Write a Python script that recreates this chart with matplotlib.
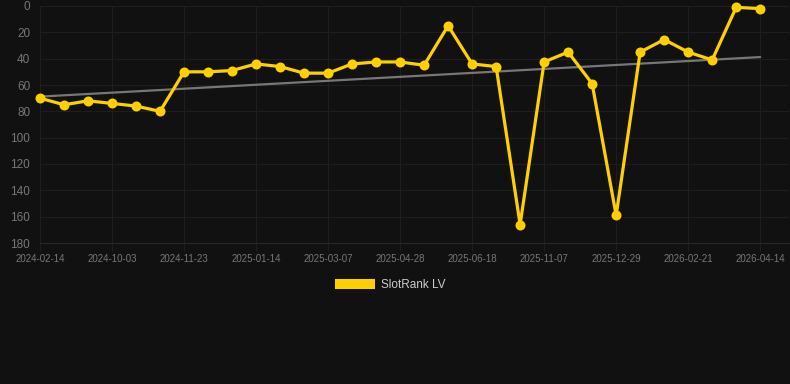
import matplotlib
matplotlib.use("Agg")
import matplotlib.pyplot as plt
import matplotlib.patches as mpatches
import numpy as np

# ── Data ─────────────────────────────────────────────────────────────────────
dates = [
    "2024-02-14", "", "", "2024-10-03", "", "", "2024-11-23", "", "",
    "2025-01-14", "", "", "2025-03-07", "", "", "2025-04-28", "", "",
    "2025-06-18", "", "", "2025-11-07", "", "", "2025-12-29", "", "",
    "2026-02-21", "", "", "2026-04-14",
]
rank = [70, 75, 72, 74, 76, 80, 50, 50, 49, 44, 46, 51, 51, 44, 42.5, 42.5,
        45, 15, 44, 46, 166, 42.5, 35, 59, 159, 35, 25.5, 35, 41, 1, 2]
series_name = "SlotRank LV"

BG = "#111111"
GRID = "#1e1e1e"
TICK = "#777777"
GOLD = "#FFD000"

plt.rcParams["font.family"] = ["Liberation Sans", "DejaVu Sans"]

fig = plt.figure(figsize=(7.9, 3.84), dpi=100, facecolor=BG)
ax = fig.add_axes([40 / 790, 141 / 384, 749 / 790, 237 / 384], facecolor=BG)

x = np.arange(len(rank))
y = np.array(rank, dtype=float)

# trend line (least squares over all points)
b, a = np.polyfit(x, y, 1)
ax.plot([x[0], x[-1]], [a + b * x[0], a + b * x[-1]], color="#777777",
        lw=1.6, zorder=2, solid_capstyle="round")

ax.plot(x, y, color=GOLD, lw=2.3, marker="o", markersize=7.2,
        markeredgewidth=0, zorder=3, clip_on=False)

ax.set_ylim(180, 0)
ax.set_yticks(range(0, 181, 20))
ax.set_xlim(0, 31.2)
tick_idx = [i for i, d in enumerate(dates) if d]
ax.set_xticks(tick_idx)
ax.set_xticklabels([dates[i] for i in tick_idx])

ax.grid(True, color=GRID, lw=0.8)
ax.set_axisbelow(True)
for side in ("top", "right", "left"):
    ax.spines[side].set_visible(False)
ax.spines["bottom"].set_color("#282828")
ax.tick_params(axis="y", length=0, pad=7, labelsize=8.5, labelcolor=TICK)
ax.tick_params(axis="x", length=6, color=GRID, pad=2, labelsize=7,
               labelcolor=TICK)

handle = mpatches.Patch(facecolor=GOLD, edgecolor="none")
leg = fig.legend([handle], [series_name], loc="center",
                 bbox_to_anchor=(390 / 790, 1 - 285 / 384), frameon=False,
                 handlelength=3.4, handleheight=1.0, handletextpad=0.5,
                 fontsize=8.5)
for t in leg.get_texts():
    t.set_color("#cccccc")

fig.savefig("out.png", dpi=100, facecolor=BG)
